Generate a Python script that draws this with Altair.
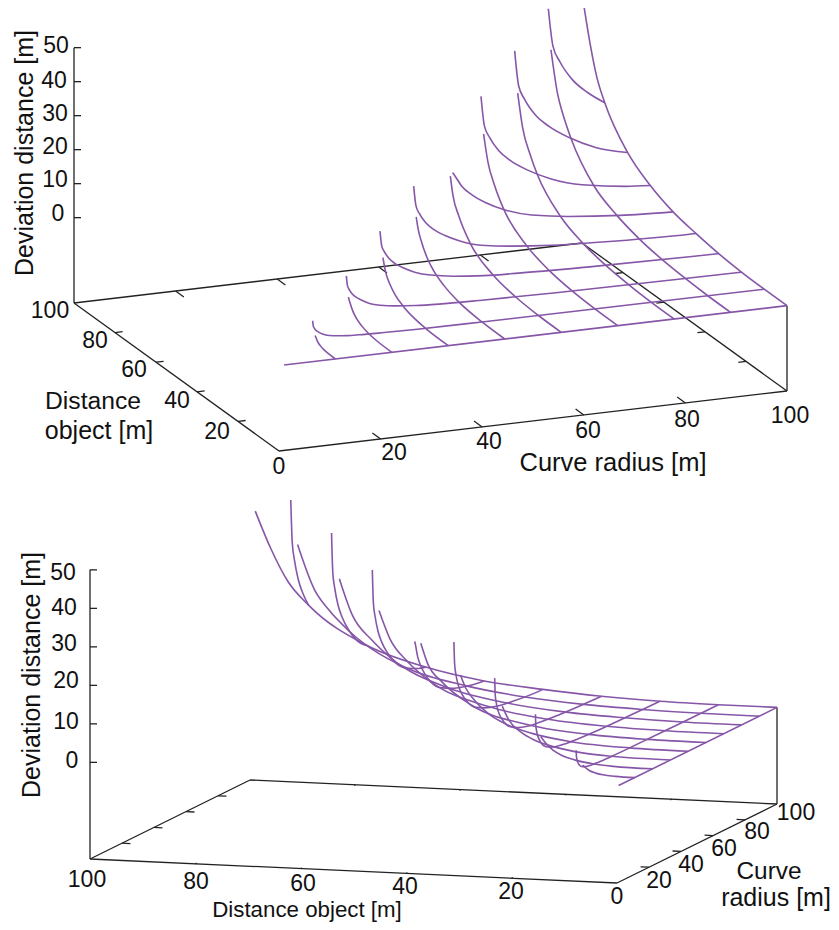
import altair as alt
import pandas as pd

# Surface: constant-distance lines (D): radius samples, deviation
D_LINES = {
    0.0: ([1, 100], [0, 0]),
    11.11: ([11.11, 11.22, 11.4, 11.7, 12.08, 12.63, 13.39, 14.43, 15.87, 17.92, 20.2, 24.69, 31.74, 44.44, 74.07, 100],
            [6.4, 4.9, 4.3, 3.6, 3.1, 2.5, 1.97, 1.49, 1.14, 0.84, 0.67, 0.47, 0.29, 0.18, 0.07, 0]),
    22.22: ([22.22, 22.44, 22.79, 23.39, 24.15, 25.25, 26.77, 28.86, 31.74, 35.84, 40.4, 49.38, 63.49, 88.88, 100],
            [12.8, 9.9, 8.7, 7.3, 6.2, 5.1, 3.9, 3.0, 2.3, 1.7, 1.3, 0.94, 0.57, 0.3, 0.2]),
    33.33: ([33.33, 33.67, 34.18, 35.08, 36.23, 37.88, 40.16, 43.29, 47.61, 53.76, 60.6, 74.07, 95.2, 100],
            [19.2, 14.8, 13.0, 10.9, 9.2, 7.6, 5.9, 4.5, 3.4, 2.5, 2.0, 1.4, 0.86, 0.8]),
    44.44: ([44.44, 44.89, 45.58, 46.78, 48.3, 50.5, 53.54, 57.71, 63.49, 71.68, 80.8, 98.76, 100],
            [25.6, 19.8, 17.3, 14.5, 12.3, 10.1, 7.9, 5.9, 4.6, 3.4, 2.7, 1.9, 1.9]),
    55.56: ([56.6, 57.0, 58.48, 60.4, 63.14, 66.94, 72.15, 79.37, 89.6, 100],
            [22.6, 21.7, 18.1, 15.4, 12.6, 9.8, 7.4, 5.7, 4.2, 3.4]),
    66.67: ([66.67, 67.34, 68.38, 70.18, 72.47, 75.76, 80.33, 86.58, 95.24, 100],
            [38.4, 29.6, 26.0, 21.8, 18.5, 15.2, 11.8, 8.9, 6.9, 6.3]),
    77.78: ([77.78, 78.56, 79.77, 81.87, 84.54, 88.39, 93.71, 100],
            [45, 34.6, 30.3, 25.4, 21.6, 17.7, 13.8, 11.2]),
    88.89: ([88.89, 89.79, 91.17, 93.57, 96.62, 100],
            [50.6, 39.5, 34.6, 29.0, 24.6, 21]),
}

# Constant-radius lines (R): distance samples, deviation
R_LINES = {
    11.11: ([0, 3.7, 5.56, 7.41, 8.64, 9.9], [0, 0.09, 0.28, 0.7, 1.3, 2.6]),
    22.22: ([0, 7.4, 11.11, 14.82, 17.28, 18.89, 20.44, 21.2], [0, 0.18, 0.55, 1.4, 2.44, 3.67, 5.67, 7.0]),
    33.33: ([0, 11.11, 16.67, 22.22, 25.93, 28.33, 30.66, 31.9], [0, 0.27, 0.83, 2.1, 3.67, 5.5, 8.5, 12]),
    44.44: ([0, 11.11, 22.22, 29.63, 34.57, 37.77, 40.88, 42.2, 43.2], [0, 0.18, 1.1, 2.8, 4.9, 7.3, 11.3, 13.8, 17.1]),
    55.56: ([0, 11.11, 22.22, 33.33, 44.44, 50, 52.8, 54.1], [0, 0.11, 0.72, 2.4, 6.9, 12.5, 17.2, 22.4]),
    66.67: ([0, 11.11, 22.22, 33.33, 44.44, 55.56, 60, 63.33, 65.4], [0, 0.07, 0.53, 1.67, 4.2, 10, 15, 20.7, 27.9]),
    77.78: ([0, 11.11, 22.22, 33.33, 44.44, 55.56, 66.67, 70, 73.9, 76.3], [0, 0.05, 0.47, 1.24, 2.9, 6.1, 13.4, 17.5, 24.1, 33.2]),
    88.89: ([0, 11.11, 22.22, 33.33, 44.44, 55.56, 66.67, 77.78, 81.8, 84.4, 87.6], [0, 0.04, 0.36, 0.98, 2.2, 4.4, 8.2, 17.2, 22.7, 27.6, 39.1]),
    100.0: ([0, 11.11, 22.22, 33.33, 44.44, 55.56, 66.67, 77.78, 88.89, 92.8, 96.1, 99], [0, 0, 0.2, 0.8, 1.9, 3.4, 6.3, 11.2, 21, 26.9, 35.4, 44.8]),
}

AXIS_TICKS = [20, 40, 60, 80]
Z_TICKS = [0, 10, 20, 30, 40, 50]
Z_BASE = -25.1
LINE_COLOR = "#8656a8"
FRAME_COLOR = "#222222"
FONT = "Liberation Sans"

# View of each panel: screen origin and screen step per metre along each axis
VIEW_TOP = dict(ox=279, oy=451, rx=5.08, ry=-0.60, dx=-2.05, dy=-1.48, zy=-3.40,
                rtick=4.0, dtick=1.5)
VIEW_BOTTOM = dict(ox=617, oy=883, rx=1.60, ry=-0.79, dx=-5.27, dy=-0.24, zy=-3.85,
                   rtick=1.6, dtick=0.8)

LABELS = [("50", 56, 46, 23), ("40", 54, 81, 23), ("30", 55, 114, 23), ("20", 55, 147, 23), ("10", 55, 180, 23), ("0", 58, 214, 23),
          ("100", 50, 311, 23), ("80", 95, 341, 23), ("60", 134, 370, 23), ("40", 177, 401, 23), ("20", 217, 432, 23),
          ("0", 279, 467, 23), ("20", 394, 453, 23), ("40", 489, 442, 23), ("60", 588, 431, 23), ("80", 687, 420, 23), ("100", 790, 416, 23),
          ("Distance", 93, 402, 24.7), ("object [m]", 99, 431, 25), ("Curve radius [m]", 613, 463, 25.5),
          ("50", 63, 573, 23), ("40", 64, 608, 23), ("30", 64, 644, 23), ("20", 66, 681, 23), ("10", 66, 722, 23), ("0", 72, 761, 23),
          ("100", 87, 880, 23), ("80", 196, 882, 23), ("60", 303, 884, 23), ("40", 405, 887, 23), ("20", 511, 892, 23), ("0", 617, 897, 23),
          ("20", 659, 881, 23), ("40", 691, 865, 23), ("60", 724, 849, 23), ("80", 757, 832, 23), ("100", 796, 813, 23),
          ("Curve", 769, 872, 24.4), ("radius [m]", 776, 898, 25), ("Distance object [m]", 307, 910, 22.3)]
TITLES = [("Deviation distance [m]", 25, 153, 25), ("Deviation distance [m]", 32, 675, 25)]


def project(v, r, d, z):
    return (v["ox"] + v["rx"] * r + v["dx"] * d,
            v["oy"] + v["ry"] * r + v["dy"] * d + v["zy"] * (z - Z_BASE))


def surface(v, tag):
    rows = []
    for d, (rs, zs) in D_LINES.items():
        for r, z in zip(rs, zs):
            x, y = project(v, r, d, z)
            rows.append(dict(line=f"{tag}D{d}", t=r, x=x, y=y))
    for r, (ds, zs) in R_LINES.items():
        for d, z in zip(ds, zs):
            x, y = project(v, r, d, z)
            rows.append(dict(line=f"{tag}R{r}", t=-d, x=x, y=y))
    return rows


def frame(v, tag):
    segs = []

    def seg(a, b):
        n = f"{tag}{len(segs)}"
        segs.append(dict(seg=n, t=0, x=a[0], y=a[1]))
        segs.append(dict(seg=n, t=1, x=b[0], y=b[1]))

    p = lambda r, d, z=Z_BASE: project(v, r, d, z)
    seg(p(0, 0), p(100, 0))
    seg(p(0, 0), p(0, 100))
    seg(p(0, 100), p(100, 100))
    seg(p(100, 100), p(100, 0))
    seg(p(0, 100), p(0, 100, 50))
    seg(p(100, 0), p(100, 0, 0))
    for t in AXIS_TICKS:
        seg(p(t, 0), p(t, v["rtick"]))
        seg(p(t, 100), p(t, 100 - v["rtick"]))
        seg(p(0, t), p(v["dtick"], t))
        seg(p(100, t), p(100 - v["dtick"], t))
    for z in Z_TICKS:
        a = p(0, 100, z)
        seg(a, (a[0] + 7, a[1]))
    return segs


xs = alt.X("x:Q", scale=alt.Scale(domain=[8, 831], nice=False, zero=False), axis=None)
ys = alt.Y("y:Q", scale=alt.Scale(domain=[922, 8], nice=False, zero=False), axis=None)
size = alt.Size("s:Q", scale=None)

fr = alt.Chart(pd.DataFrame(frame(VIEW_TOP, "a") + frame(VIEW_BOTTOM, "b"))).mark_line(
    color=FRAME_COLOR, strokeWidth=1.3).encode(x=xs, y=ys, detail="seg:N", order="t:Q")
sf = alt.Chart(pd.DataFrame(surface(VIEW_TOP, "a") + surface(VIEW_BOTTOM, "b"))).mark_line(
    color=LINE_COLOR, strokeWidth=1.6, interpolate="monotone").encode(x=xs, y=ys, detail="line:N", order="t:Q")
tx = alt.Chart(pd.DataFrame(LABELS, columns=["label", "x", "y", "s"])).mark_text(
    font=FONT, color="#111111", align="center", baseline="middle").encode(x=xs, y=ys, text="label:N", size=size)
tt = alt.Chart(pd.DataFrame(TITLES, columns=["label", "x", "y", "s"])).mark_text(
    font=FONT, color="#111111", align="center", baseline="middle", angle=270).encode(x=xs, y=ys, text="label:N", size=size)

chart = alt.layer(fr, sf, tx, tt).properties(
    width=823, height=914, padding=0, autosize=alt.AutoSizeParams(type="none")
).configure_view(strokeWidth=0)
chart.save("out.html", embed_options={"renderer": "svg", "actions": False})
